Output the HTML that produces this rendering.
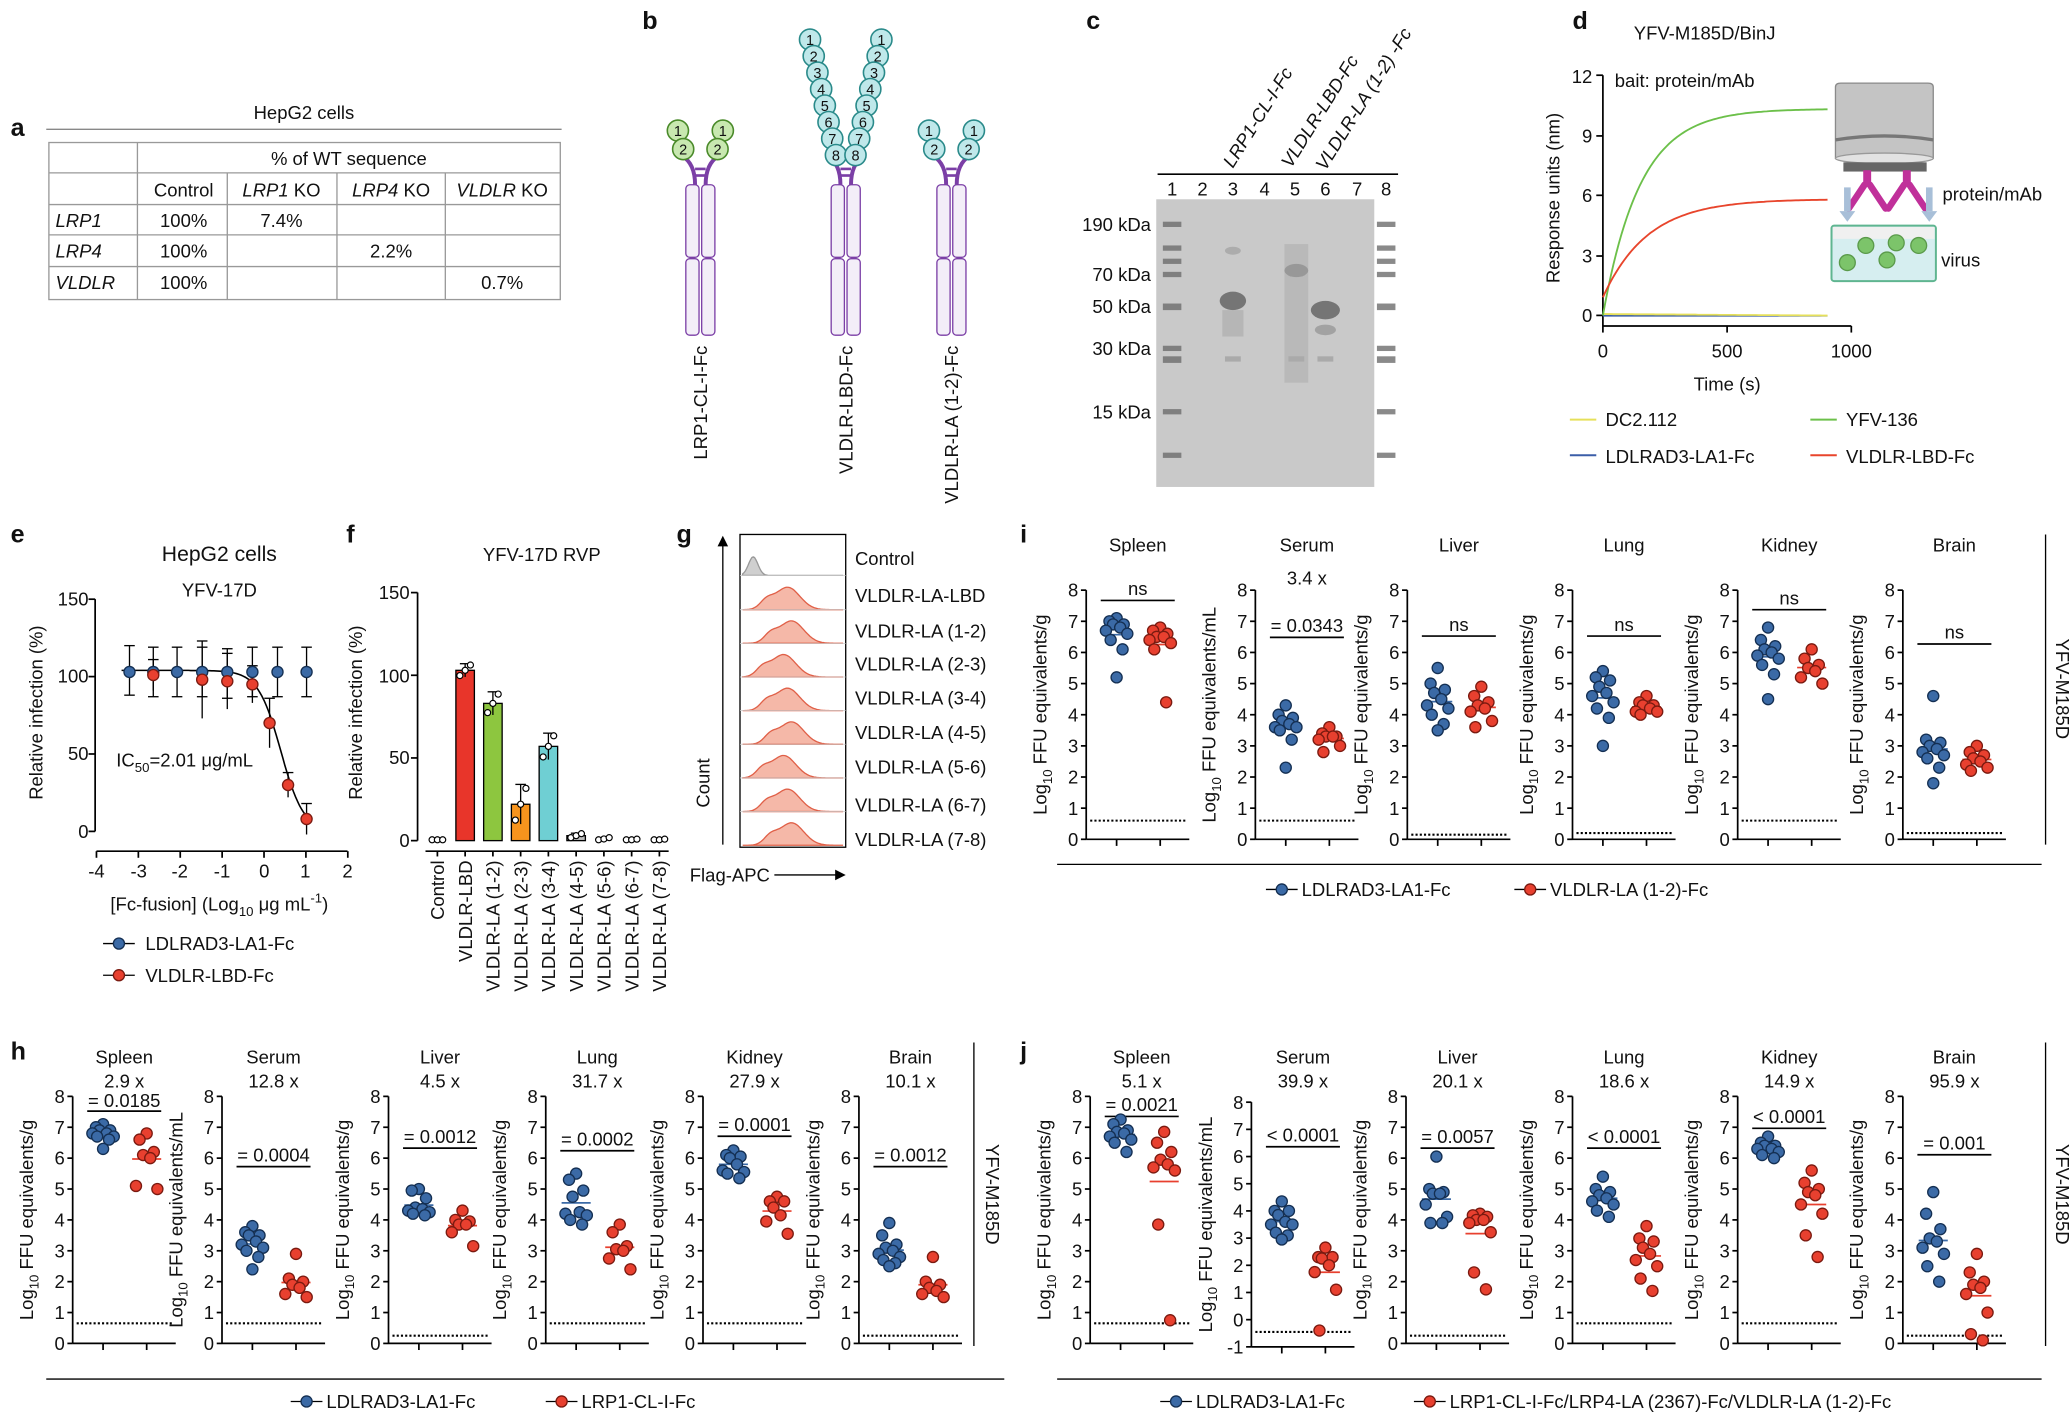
<!DOCTYPE html>
<html><head><meta charset="utf-8"><style>
html,body{margin:0;padding:0;background:#fff}
svg{display:block}
text{font-family:"Liberation Sans",Arial,sans-serif;fill:#111}
</style></head><body>
<svg id="s" xmlns="http://www.w3.org/2000/svg" width="2072" height="1416" viewBox="0 0 1568 1073" preserveAspectRatio="none">
<rect width="1568" height="1073" fill="#fff"/>
<!-- panel a -->
<g font-size="14">
<text x="8" y="103" font-size="19" font-weight="bold">a</text>
<text x="230" y="90" text-anchor="middle">HepG2 cells</text>
<line x1="35" y1="98" x2="425" y2="98" stroke="#888" stroke-width="1"/>
<rect x="37" y="108" width="387" height="119" fill="none" stroke="#999" stroke-width="1"/>
<g stroke="#999" stroke-width="1">
<line x1="37" y1="131" x2="424" y2="131"/><line x1="37" y1="155" x2="424" y2="155"/>
<line x1="37" y1="178" x2="424" y2="178"/><line x1="37" y1="202" x2="424" y2="202"/>
<line x1="104" y1="108" x2="104" y2="227"/><line x1="172" y1="131" x2="172" y2="227"/>
<line x1="255" y1="131" x2="255" y2="227"/><line x1="337" y1="131" x2="337" y2="227"/>
</g>
<text x="264" y="125" text-anchor="middle">% of WT sequence</text>
<text x="139" y="149" text-anchor="middle">Control</text>
<text x="213" y="149" text-anchor="middle"><tspan font-style="italic">LRP1</tspan> KO</text>
<text x="296" y="149" text-anchor="middle"><tspan font-style="italic">LRP4</tspan> KO</text>
<text x="380" y="149" text-anchor="middle"><tspan font-style="italic">VLDLR</tspan> KO</text>
<text x="42" y="172" font-style="italic">LRP1</text><text x="42" y="195" font-style="italic">LRP4</text><text x="42" y="219" font-style="italic">VLDLR</text>
<text x="139" y="172" text-anchor="middle">100%</text><text x="139" y="195" text-anchor="middle">100%</text><text x="139" y="219" text-anchor="middle">100%</text>
<text x="213" y="172" text-anchor="middle">7.4%</text><text x="296" y="195" text-anchor="middle">2.2%</text><text x="380" y="219" text-anchor="middle">0.7%</text>
</g>
<!-- panel labels -->
<g font-size="19" font-weight="bold">
<text x="486" y="22">b</text><text x="822" y="22">c</text><text x="1190" y="22">d</text>
<text x="8" y="411">e</text><text x="262" y="411">f</text><text x="512" y="411">g</text><text x="772" y="411">i</text>
<text x="8" y="803">h</text><text x="772" y="803">j</text>
</g>
<!-- b labels -->
<g font-size="14">
<text transform="translate(535,262) rotate(-90)" text-anchor="end">LRP1-CL-I-Fc</text>
<text transform="translate(645,262) rotate(-90)" text-anchor="end">VLDLR-LBD-Fc</text>
<text transform="translate(725,262) rotate(-90)" text-anchor="end">VLDLR-LA (1-2)-Fc</text>
</g>
<!-- c -->
<g font-size="14">
<text transform="translate(933,128) rotate(-58)" font-style="italic">LRP1-CL-I-Fc</text>
<text transform="translate(977,128) rotate(-58)" font-style="italic">VLDLR-LBD-Fc</text>
<text transform="translate(1003,130) rotate(-58)" font-style="italic">VLDLR-LA (1-2) -Fc</text>
<line x1="876" y1="132" x2="1058" y2="132" stroke="#000" stroke-width="1.2"/>
<text x="887" y="148" text-anchor="middle">1</text><text x="910" y="148" text-anchor="middle">2</text><text x="933" y="148" text-anchor="middle">3</text><text x="957" y="148" text-anchor="middle">4</text><text x="980" y="148" text-anchor="middle">5</text><text x="1003" y="148" text-anchor="middle">6</text><text x="1027" y="148" text-anchor="middle">7</text><text x="1049" y="148" text-anchor="middle">8</text>
<text x="871" y="175" text-anchor="end">190 kDa</text><text x="871" y="213" text-anchor="end">70 kDa</text><text x="871" y="237" text-anchor="end">50 kDa</text><text x="871" y="269" text-anchor="end">30 kDa</text><text x="871" y="317" text-anchor="end">15 kDa</text>
</g>
<!-- d text -->
<g font-size="14">
<text x="1290" y="30" text-anchor="middle">YFV-M185D/BinJ</text>
<text x="1222" y="66">bait: protein/mAb</text>
<text transform="translate(1180,150) rotate(-90)" text-anchor="middle">Response units (nm)</text>
<text x="1205" y="63" text-anchor="end">12</text><text x="1205" y="108" text-anchor="end">9</text><text x="1205" y="153" text-anchor="end">6</text><text x="1205" y="199" text-anchor="end">3</text><text x="1205" y="244" text-anchor="end">0</text>
<text x="1213" y="271" text-anchor="middle">0</text><text x="1307" y="271" text-anchor="middle">500</text><text x="1401" y="271" text-anchor="middle">1000</text>
<text x="1307" y="296" text-anchor="middle">Time (s)</text>
<text x="1470" y="152">protein/mAb</text><text x="1469" y="202">virus</text>
<text x="1215" y="323">DC2.112</text><text x="1397" y="323">YFV-136</text>
<text x="1215" y="351">LDLRAD3-LA1-Fc</text><text x="1397" y="351">VLDLR-LBD-Fc</text>
</g>
<!-- e text -->
<g font-size="14">
<text x="166" y="425" text-anchor="middle" font-size="16">HepG2 cells</text>
<text x="166" y="452" text-anchor="middle">YFV-17D</text>
<text transform="translate(32,540) rotate(-90)" text-anchor="middle">Relative infection (%)</text>
<text x="67" y="459" text-anchor="end">150</text><text x="67" y="517" text-anchor="end">100</text><text x="67" y="576" text-anchor="end">50</text><text x="67" y="635" text-anchor="end">0</text>
<text x="73" y="665" text-anchor="middle">-4</text><text x="105" y="665" text-anchor="middle">-3</text><text x="136" y="665" text-anchor="middle">-2</text><text x="168" y="665" text-anchor="middle">-1</text><text x="200" y="665" text-anchor="middle">0</text><text x="231" y="665" text-anchor="middle">1</text><text x="263" y="665" text-anchor="middle">2</text>
<text x="88" y="581">IC<tspan font-size="10" dy="4">50</tspan><tspan dy="-4">=2.01 μg/mL</tspan></text>
<text x="166" y="690" text-anchor="middle">[Fc-fusion] (Log<tspan font-size="10" dy="4">10</tspan><tspan dy="-4"> μg mL</tspan><tspan font-size="10" dy="-6">-1</tspan><tspan dy="6">)</tspan></text>
<text x="110" y="720">LDLRAD3-LA1-Fc</text><text x="110" y="744">VLDLR-LBD-Fc</text>
</g>
<!-- f text -->
<g font-size="14">
<text x="410" y="425" text-anchor="middle">YFV-17D RVP</text>
<text transform="translate(274,540) rotate(-90)" text-anchor="middle">Relative infection (%)</text>
<text x="310" y="454" text-anchor="end">150</text><text x="310" y="517" text-anchor="end">100</text><text x="310" y="579" text-anchor="end">50</text><text x="310" y="642" text-anchor="end">0</text>
<text transform="translate(336,652) rotate(-90)" text-anchor="end">Control</text>
<text transform="translate(357,652) rotate(-90)" text-anchor="end">VLDLR-LBD</text>
<text transform="translate(378,652) rotate(-90)" text-anchor="end">VLDLR-LA (1-2)</text>
<text transform="translate(399,652) rotate(-90)" text-anchor="end">VLDLR-LA (2-3)</text>
<text transform="translate(420,652) rotate(-90)" text-anchor="end">VLDLR-LA (3-4)</text>
<text transform="translate(441,652) rotate(-90)" text-anchor="end">VLDLR-LA (4-5)</text>
<text transform="translate(462,652) rotate(-90)" text-anchor="end">VLDLR-LA (5-6)</text>
<text transform="translate(483,652) rotate(-90)" text-anchor="end">VLDLR-LA (6-7)</text>
<text transform="translate(504,652) rotate(-90)" text-anchor="end">VLDLR-LA (7-8)</text>
</g>
<!-- g text -->
<g font-size="14">
<text x="647" y="428">Control</text><text x="647" y="456">VLDLR-LA-LBD</text><text x="647" y="483">VLDLR-LA (1-2)</text><text x="647" y="508">VLDLR-LA (2-3)</text><text x="647" y="534">VLDLR-LA (3-4)</text><text x="647" y="560">VLDLR-LA (4-5)</text><text x="647" y="586">VLDLR-LA (5-6)</text><text x="647" y="615">VLDLR-LA (6-7)</text><text x="647" y="641">VLDLR-LA (7-8)</text>
<text transform="translate(537,612) rotate(-90)" text-anchor="start">Count</text>
<text x="522" y="668">Flag-APC</text>
</g>
<!-- scatter titles -->
<g font-size="14" text-anchor="middle">
<text x="861" y="418">Spleen</text><text x="989" y="418">Serum</text><text x="989" y="443">3.4 x</text><text x="1104" y="418">Liver</text><text x="1229" y="418">Lung</text><text x="1354" y="418">Kidney</text><text x="1479" y="418">Brain</text>
<text x="861" y="451">ns</text><text x="989" y="479">= 0.0343</text><text x="1104" y="478">ns</text><text x="1229" y="478">ns</text><text x="1354" y="458">ns</text><text x="1479" y="484">ns</text>

<text x="94" y="806">Spleen</text><text x="94" y="824">2.9 x</text><text x="207" y="806">Serum</text><text x="207" y="824">12.8 x</text><text x="333" y="806">Liver</text><text x="333" y="824">4.5 x</text><text x="452" y="806">Lung</text><text x="452" y="824">31.7 x</text><text x="571" y="806">Kidney</text><text x="571" y="824">27.9 x</text><text x="689" y="806">Brain</text><text x="689" y="824">10.1 x</text>
<text x="94" y="839">= 0.0185</text><text x="207" y="880">= 0.0004</text><text x="333" y="866">= 0.0012</text><text x="452" y="868">= 0.0002</text><text x="571" y="857">= 0.0001</text><text x="689" y="880">= 0.0012</text>

<text x="864" y="806">Spleen</text><text x="864" y="824">5.1 x</text><text x="986" y="806">Serum</text><text x="986" y="824">39.9 x</text><text x="1103" y="806">Liver</text><text x="1103" y="824">20.1 x</text><text x="1229" y="806">Lung</text><text x="1229" y="824">18.6 x</text><text x="1354" y="806">Kidney</text><text x="1354" y="824">14.9 x</text><text x="1479" y="806">Brain</text><text x="1479" y="824">95.9 x</text>
<text x="864" y="842">= 0.0021</text><text x="986" y="865">&lt; 0.0001</text><text x="1103" y="866">= 0.0057</text><text x="1229" y="866">&lt; 0.0001</text><text x="1354" y="851">&lt; 0.0001</text><text x="1479" y="871">= 0.001</text>
</g>
<g font-size="14">
<text transform="translate(1556,522) rotate(90)" text-anchor="middle">YFV-M185D</text>
<text transform="translate(746,905) rotate(90)" text-anchor="middle">YFV-M185D</text>
<text transform="translate(1556,905) rotate(90)" text-anchor="middle">YFV-M185D</text>
<text x="985" y="679">LDLRAD3-LA1-Fc</text><text x="1173" y="679">VLDLR-LA (1-2)-Fc</text>
<text x="247" y="1067">LDLRAD3-LA1-Fc</text><text x="440" y="1067">LRP1-CL-I-Fc</text>
<text x="905" y="1067">LDLRAD3-LA1-Fc</text><text x="1097" y="1067">LRP1-CL-I-Fc/LRP4-LA (2367)-Fc/VLDLR-LA (1-2)-Fc</text>
</g>
<g id="dyn"></g>
</svg>
<script>
var S=[];function A(s){S.push(s)}
function L(a,b,c,d,e,col){A('<line x1="'+a+'" y1="'+b+'" x2="'+c+'" y2="'+d+'" stroke="'+(col||'#000')+'" '+(e&&e.indexOf('stroke-width')>=0?'':'stroke-width="1.3" ')+(e||'')+'/>')}
function T(x,y,s,an,ex){A('<text x="'+x+'" y="'+y+'" text-anchor="'+(an||'middle')+'" font-size="14" '+(ex||'')+'>'+s+'</text>')}
var BF='#3b6aa6',BS='#142f52',RF='#e8402f',RS='#7a1a10';
function dot(x,y,c){A('<circle cx="'+x+'" cy="'+y+'" r="4.2" fill="'+(c?RF:BF)+'" stroke="'+(c?RS:BS)+'" stroke-width="1"/>')}
var JO=[0,-6,6,-3,3,-9,9,-5,5,0,-2];
function sc(ax,tmax,tmin,y0,k,sigY,b,r,dt,unit){
 var Y=function(v){return y0-v*k};
 L(ax,Y(tmax),ax,Y(tmin));L(ax,Y(tmin),ax+78,Y(tmin));
 for(var v=tmin;v<=tmax;v++){L(ax-4,Y(v),ax,Y(v));T(ax-6,Y(v)+5,v,'end')}
 L(ax+23,Y(tmin),ax+23,Y(tmin)+5);L(ax+56,Y(tmin),ax+56,Y(tmin)+5);
 L(ax+3,Y(dt),ax+75,Y(dt),'stroke-dasharray="1.6,1.6" stroke-width="1.6"');
 if(sigY)L(ax+11,sigY,ax+67,sigY);
 [b,r].forEach(function(arr,g){var gx=ax+23+33*g,m=0;arr.forEach(function(v){m+=v});m/=arr.length;L(gx-11,Y(m),gx+11,Y(m),'',g?RF:BF);
  var s=arr.slice().sort(function(p,q){return q-p});s.forEach(function(v,i){dot(gx+JO[i%JO.length]*0.9,Y(v),g)})});
 var mid=Y((tmax+tmin)/2);
 A('<text transform="translate('+(ax-30)+','+mid+') rotate(-90)" text-anchor="middle" font-size="14">Log<tspan font-size="10" dy="4">10</tspan><tspan dy="-4"> FFU equivalents/'+unit+'</tspan></text>');
}
// i
var iy=636,ik=23.6;
sc(822,8,0,iy,ik,455,[7.1,7.0,6.9,6.8,6.9,6.6,6.4,6.1,5.2,6.7],[6.8,6.7,6.6,6.5,6.4,6.3,6.1,4.4,6.5],0.6,'g');
sc(950,8,0,iy,ik,483,[4.3,4.0,3.8,3.7,3.6,3.5,3.2,2.3,3.9,3.6],[3.6,3.4,3.3,3.2,3.3,3.0,2.8,3.3],0.6,'mL');
sc(1065,8,0,iy,ik,482,[5.5,5.0,4.7,4.5,4.3,4.2,4.0,3.7,3.5,4.8],[4.9,4.6,4.4,4.3,4.1,3.8,3.6,4.2],0.15,'g');
sc(1190,8,0,iy,ik,482,[5.4,5.1,4.9,4.6,4.4,4.2,3.9,3.0,4.7,5.2],[4.6,4.4,4.3,4.2,4.1,4.0,4.3,4.1],0.2,'g');
sc(1315,8,0,iy,ik,462,[6.8,6.4,6.2,6.0,5.8,5.6,5.3,4.5,5.9,6.1],[6.1,5.8,5.6,5.4,5.2,5.0,5.5],0.6,'g');
sc(1440,8,0,iy,ik,488,[4.6,3.2,3.0,2.9,2.8,2.6,2.3,1.8,3.1,2.7],[3.0,2.8,2.6,2.5,2.3,2.2,2.7,2.4],0.2,'g');
// h
var hy=1018,hk=23.4;
sc(55,8,0,hy,hk,842,[7.0,6.9,6.8,6.7,6.9,6.6,6.8,7.1,6.7,6.3],[6.8,6.6,6.2,6.1,6.0,5.1,5.0],0.65,'g');
sc(168,8,0,hy,hk,884,[3.8,3.6,3.5,3.3,3.1,3.0,2.8,2.4,3.2,3.5],[2.9,2.1,2.0,1.8,1.6,1.5,1.9],0.65,'mL');
sc(294,8,0,hy,hk,870,[5.0,4.95,4.7,4.4,4.35,4.3,4.25,4.2,4.15],[4.3,4.0,3.95,3.85,3.85,3.6,3.15],0.25,'g');
sc(413,8,0,hy,hk,872,[5.5,5.3,4.95,4.75,4.25,4.2,4.15,4.0,3.85],[3.85,3.6,3.15,3.05,3.0,2.75,2.4],0.65,'g');
sc(532,8,0,hy,hk,861,[6.25,6.1,6.05,6.0,5.8,5.6,5.55,5.5,5.35],[4.75,4.6,4.6,4.4,4.15,3.95,3.55],0.65,'g');
sc(650,8,0,hy,hk,884,[3.9,3.5,3.2,3.0,2.9,2.8,2.6,2.5,3.1,2.7],[2.8,2.0,1.8,1.7,1.6,1.5,1.9],0.25,'g');
// j
sc(825,8,0,hy,hk,846,[7.25,7.1,6.9,6.85,6.8,6.7,6.6,6.5,6.2],[6.85,6.5,6.2,5.95,5.7,5.8,5.6,3.85,0.75],0.65,'g');
sc(947,8,-1,1000,20.6,869,[4.35,4.0,4.0,3.85,3.6,3.5,3.5,3.2,3.1,2.95],[2.65,2.3,2.25,2.3,2.0,1.75,1.1,-0.4],-0.45,'mL');
sc(1064,8,0,hy,hk,870,[6.05,5.0,4.9,4.85,4.85,4.5,4.1,3.9,3.9],[4.2,4.15,4.1,4.0,4.0,3.9,3.6,2.3,1.75],0.25,'g');
sc(1190,8,0,hy,hk,870,[5.4,5.0,4.8,4.7,4.6,4.5,4.3,4.1,4.9],[3.8,3.4,3.1,2.9,2.7,2.5,2.1,1.7,3.3],0.65,'g');
sc(1315,8,0,hy,hk,855,[6.7,6.5,6.4,6.3,6.2,6.1,6.3,6.0,6.4],[5.6,5.2,5.0,4.8,4.5,4.2,3.5,2.8,4.9],0.65,'g');
sc(1440,8,0,hy,hk,875,[4.9,4.2,3.7,3.4,3.1,2.9,2.5,2.0,3.3],[2.9,2.3,2.0,1.8,1.6,1.0,0.3,0.1,1.9],0.25,'g');
// separators & legends
L(800,655,1545,655,'stroke-width="1"');L(1548,405,1548,640,'stroke-width="1"');
L(35,1045,760,1045,'stroke-width="1"');L(737,790,737,1020,'stroke-width="1"');
L(800,1045,1545,1045,'stroke-width="1"');L(1548,790,1548,1020,'stroke-width="1"');
function lg(x,y,c){L(x-12,y,x+12,y,'stroke-width="1"');dot(x,y,c)}
lg(970,674,0);lg(1158,674,1);lg(232,1062,0);lg(425,1062,1);lg(890,1062,0);lg(1082,1062,1);
lg(90,715,0);lg(90,739,1);
// e plot
(function(){var Y=function(v){return 630-v*1.173},X=function(l){return 73+(l+4)*31.7};
L(72,454,72,630);for(var v=0;v<=150;v+=50)L(67,Y(v),72,Y(v));
L(73,645,263,645);for(var i=-4;i<=2;i++)L(X(i),645,X(i),650);
var p='';for(var x=-3.4;x<=1.05;x+=0.05){var v=104/(1+Math.pow(10,(x-0.4)*1.6));p+=(p?'L':'M')+X(x).toFixed(1)+','+Y(v).toFixed(1)}
A('<path d="'+p+'" fill="none" stroke="#000" stroke-width="1.2"/>');
var bx=[98,116,134,153,172,191,210,232];bx.forEach(function(x,i){var v=[104,103,103,103,102,103,103,103][i];L(x,Y(v+16),x,Y(v-16),'stroke-width="1"');L(x-4,Y(v+16),x+4,Y(v+16),'stroke-width="1"');L(x-4,Y(v-16),x+4,Y(v-16),'stroke-width="1"')});
var rp=[[116,101,10],[153,98,25],[172,97,18],[191,95,12],[204,70,16],[218,30,8],[232,8,10]];
rp.forEach(function(q){L(q[0],Y(q[1]+q[2]),q[0],Y(q[1]-q[2]),'stroke-width="1"');L(q[0]-4,Y(q[1]+q[2]),q[0]+4,Y(q[1]+q[2]),'stroke-width="1"')});
bx.forEach(function(x){dot(x,Y(103),0)});rp.forEach(function(q){dot(q[0],Y(q[1]),1)});
})();
// f plot
(function(){var Y=function(v){return 637-v*1.253};L(316,449,316,637);for(var v=0;v<=150;v+=50)L(311,Y(v),316,Y(v));
L(322,645,506,645);
var d=[0,103,83,22,57,3,1,0.5,0.5],c=['#fff','#e8352a','#8dc63f','#f7941d','#6fcfd3','#bbb','#bbb','#bbb','#bbb'],e=[0,4,7,12,8,1.5,1,0.5,0.5];
d.forEach(function(v,i){var cx=331+21*i;L(cx,645,cx,649);if(v>1)A('<rect x="'+(cx-7)+'" y="'+Y(v)+'" width="14" height="'+(v*1.253)+'" fill="'+c[i]+'" stroke="#000" stroke-width="1"/>');
 if(e[i]>1){L(cx,Y(v+e[i]),cx,Y(v-e[i]),'stroke-width="1"');L(cx-4,Y(v+e[i]),cx+4,Y(v+e[i]),'stroke-width="1"')}
 [-4,0,4].forEach(function(o,j){var vv=v+(j-1)*e[i]*0.8;A('<circle cx="'+(cx+o)+'" cy="'+Y(Math.max(vv,0.5))+'" r="2.3" fill="#fff" stroke="#000" stroke-width="0.9"/>')})});
})();
// g histograms
(function(){A('<rect x="560" y="405" width="80" height="237" fill="none" stroke="#000" stroke-width="1"/>');
var bases=[436,462,487.5,513,538.5,564,589.5,615,640.5];
bases.forEach(function(b,i){var c=i?596+(i%3-1)*3:570,w=i?13:5,h=i?17:14,p='M562,'+b;
 for(var x=562;x<=638;x+=1){var y=h*Math.exp(-Math.pow((x-c)/w,2))+(i?h*0.35*Math.exp(-Math.pow((x-c+16)/7,2)):0);p+='L'+x+','+(b-y).toFixed(1)}
 p+='L638,'+b+'Z';A('<path d="'+p+'" fill="'+(i?'#f5b8a8':'#cfcfcf')+'" stroke="'+(i?'#e06048':'#999')+'" stroke-width="1"/>');
 if(i<8)L(560,b,640,b,'stroke-width="0.6"','#ccc')});
L(547,640,547,412,'stroke-width="1"');A('<path d="M547,406 L543,414 L551,414Z" fill="#000"/>');
L(586,663,634,663,'stroke-width="1"');A('<path d="M640,663 L632,659 L632,667Z" fill="#000"/>');
})();
// d plot
(function(){L(1213,57,1213,247);[239,194,148,103,57].forEach(function(y){L(1208,y,1213,y)});L(1213,247,1401,247);[1213,1307,1401].forEach(function(x){L(x,247,x,252)});
var g='',r='',yy='',bl='';for(var px=1213;px<=1401;px+=2){var t=(px-1213)/0.188;var gv=10.3*(1-Math.exp(-t/150)),rv=0.9+4.9*(1-Math.exp(-t/180));
 if(px<=1383){g+=(g?'L':'M')+px+','+(239-gv*15.2).toFixed(1);r+=(r?'L':'M')+px+','+(239-rv*15.2).toFixed(1);yy+=(yy?'L':'M')+px+','+(238+t*0.0012).toFixed(1);bl+=(bl?'L':'M')+px+','+(239.3).toFixed(1)}}
A('<path d="'+bl+'" fill="none" stroke="#3b5ea8" stroke-width="1.2"/><path d="'+yy+'" fill="none" stroke="#e6e05a" stroke-width="1.4"/><path d="'+g+'" fill="none" stroke="#6cc04a" stroke-width="1.4"/><path d="'+r+'" fill="none" stroke="#e8452c" stroke-width="1.4"/>');
L(1188,318,1208,318,'stroke-width="1.5"','#e6e05a');L(1370,318,1390,318,'stroke-width="1.5"','#6cc04a');L(1188,345,1208,345,'stroke-width="1.5"','#3b5ea8');L(1370,345,1390,345,'stroke-width="1.5"','#e8452c');
// sensor drawing
A('<path d="M1389,66 Q1389,63 1393,63 L1459,63 Q1463,63 1463,66 L1463,120 Q1426,126 1389,120Z" fill="#c4c4c4" stroke="#8a8a8a"/>');
A('<path d="M1389,106 Q1426,100 1463,106" fill="none" stroke="#777" stroke-width="2.5"/>');
A('<ellipse cx="1426" cy="120" rx="37" ry="4" fill="#e2e2e2" stroke="#999"/>');
A('<rect x="1395" y="123" width="63" height="7" fill="#666"/>');
[1413,1443].forEach(function(x){A('<rect x="'+(x-3)+'" y="129" width="6" height="12" fill="#c0309a"/><path d="M'+(x-2)+',140 L'+(x-14)+',158 M'+(x+2)+',140 L'+(x+14)+',158" stroke="#c0309a" stroke-width="5" stroke-linecap="round"/>')});
[1398,1460].forEach(function(x){A('<rect x="'+(x-2.5)+'" y="142" width="5" height="18" fill="#a8bfd8"/><path d="M'+(x-6)+',160 L'+(x+6)+',160 L'+x+',168Z" fill="#a8bfd8"/>')});
A('<rect x="1386" y="171" width="79" height="42" rx="2" fill="#d6eef0" stroke="#5fb590" stroke-width="1.5"/><rect x="1387" y="172" width="77" height="9" fill="#f0f0f0"/>');
[[1398,199],[1412,186],[1428,197],[1435,184],[1452,186]].forEach(function(q){A('<circle cx="'+q[0]+'" cy="'+q[1]+'" r="6" fill="#7cc46a" stroke="#5a9a4a"/>')});
})();
// c gel
(function(){A('<rect x="875" y="151" width="165" height="218" fill="#c9c9c9"/>');
[170,188,198,208,232,264,272,312,345].forEach(function(y,i){[887,1049].forEach(function(x){A('<rect x="'+(x-7)+'" y="'+(y-2)+'" width="14" height="'+(i==4||i==6?5:4)+'" fill="#6d6d6d" opacity="0.8"/>')})});
A('<ellipse cx="933" cy="228" rx="10" ry="7" fill="#666" opacity="0.85"/><ellipse cx="933" cy="190" rx="6" ry="3" fill="#999" opacity="0.6"/><rect x="925" y="235" width="16" height="20" fill="#aaa" opacity="0.6"/>');
A('<ellipse cx="981" cy="205" rx="9" ry="5" fill="#777" opacity="0.8"/><rect x="972" y="185" width="18" height="105" fill="#aaa" opacity="0.5"/>');
A('<ellipse cx="1003" cy="235" rx="11" ry="7" fill="#666" opacity="0.85"/><ellipse cx="1003" cy="250" rx="8" ry="4" fill="#888" opacity="0.6"/>');
[933,981,1003].forEach(function(x){A('<rect x="'+(x-6)+'" y="270" width="12" height="4" fill="#aaa"/>')});
})();
// b diagram
(function(){var P='#7b3fa6';
function stem(cx){A('<path d="M'+(cx-14)+',118 Q'+(cx-4)+',124 '+(cx-4)+',140 M'+(cx+14)+',118 Q'+(cx+4)+',124 '+(cx+4)+',140" fill="none" stroke="'+P+'" stroke-width="3"/>');
 L(cx-4,128,cx+4,128,'stroke-width="2"',P);L(cx-4,133,cx+4,133,'stroke-width="2"',P);
 [cx-11,cx+1].forEach(function(x){A('<rect x="'+x+'" y="140" width="10" height="55" rx="3" fill="#f3eef8" stroke="'+P+'" stroke-width="1"/><rect x="'+x+'" y="196" width="10" height="58" rx="3" fill="#f3eef8" stroke="'+P+'" stroke-width="1"/>')})}
function circ(x,y,n,f,s){A('<circle cx="'+x+'" cy="'+y+'" r="8" fill="'+f+'" stroke="'+s+'" stroke-width="1.2"/><text x="'+x+'" y="'+(y+4)+'" font-size="11" text-anchor="middle">'+n+'</text>')}
[[530,'#c8e8b0','#4a8a2a'],[720,'#bfe8ea','#2a8a8a']].forEach(function(q){var cx=q[0];stem(cx);
 circ(cx-17,99,1,q[1],q[2]);circ(cx-13,113,2,q[1],q[2]);circ(cx+17,99,1,q[1],q[2]);circ(cx+13,113,2,q[1],q[2])});
stem(640);for(var i=0;i<8;i++){var y=30+i*12.5,dx=27-i*2.8;circ(640-dx,y,i+1,'#bfe8ea','#2a8a8a');circ(640+dx,y,i+1,'#bfe8ea','#2a8a8a')}
})();
document.getElementById('dyn').innerHTML=S.join('');
</script>
</body></html>
